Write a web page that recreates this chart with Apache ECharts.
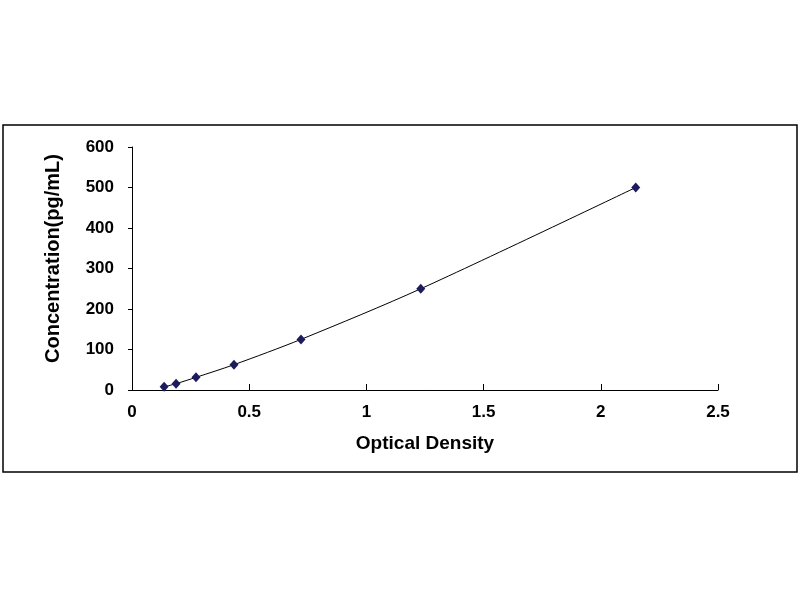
<!DOCTYPE html>
<html>
<head>
<meta charset="utf-8">
<script src="https://cdn.jsdelivr.net/npm/echarts@6/dist/echarts.min.js"></script>
<style>
    html, body { margin: 0; padding: 0; background: #fff; }
    #curve { width: 800px; height: 600px; }
</style>
</head>
<body>
<div id="curve"></div>
<script>
// standard curve: optical density vs concentration
const opticalDensity = [0.137, 0.188, 0.273, 0.435, 0.721, 1.232, 2.149]
const concentration = [7.8, 15.6, 31.25, 62.5, 125, 250, 500]

const xTicks = { min: 0, max: 2.5, interval: 0.5 }
const yTicks = { min: 0, max: 600, interval: 100 }

const font = 'Liberation Sans, Arial, sans-serif'

const buildPoints = function() {
    return opticalDensity.map((x, i) => [x, concentration[i]])
}

const optionForCurve = function(points) {
    const option = {
        animation: false,
        backgroundColor: '#fff',
        graphic: [
            {
                type: 'rect',
                shape: { x: 3, y: 125, width: 794, height: 347 },
                style: { fill: 'none', stroke: '#000', lineWidth: 1.5 },
            },
        ],
        grid: { left: 132, right: 82, top: 147, bottom: 210 },
        xAxis: {
            type: 'value',
            min: xTicks.min,
            max: xTicks.max,
            interval: xTicks.interval,
            name: 'Optical Density',
            nameLocation: 'middle',
            nameGap: 44,
            nameTextStyle: { fontFamily: font, fontWeight: 'bold', fontSize: 19, color: '#000' },
            axisLine: { show: true, lineStyle: { color: '#000', width: 1 } },
            axisTick: { show: true, inside: true, length: 6, lineStyle: { color: '#000' } },
            axisLabel: { fontFamily: font, fontWeight: 'bold', fontSize: 17, color: '#000', margin: 14 },
            splitLine: { show: false },
        },
        yAxis: {
            type: 'value',
            min: yTicks.min,
            max: yTicks.max,
            interval: yTicks.interval,
            name: 'Concentration(pg/mL)',
            nameLocation: 'middle',
            nameGap: 69,
            nameTextStyle: {
                fontFamily: font, fontWeight: 'bold', fontSize: 20, color: '#000',
                padding: [0, 0, 0, 20],
            },
            axisLine: { show: true, lineStyle: { color: '#000', width: 1 } },
            axisTick: { show: true, inside: false, length: 4, lineStyle: { color: '#000' } },
            axisLabel: { fontFamily: font, fontWeight: 'bold', fontSize: 17, color: '#000', margin: 18 },
            splitLine: { show: false },
        },
        series: [
            {
                type: 'line',
                data: points,
                smooth: 0.3,
                symbol: 'diamond',
                symbolSize: [9, 10],
                itemStyle: { color: '#1c1c5c' },
                lineStyle: { color: '#000', width: 1 },
            },
        ],
    }
    return option
}

const __main = function() {
    const element = document.getElementById('curve')
    const chart = echarts.init(element)
    chart.setOption(optionForCurve(buildPoints()))
}

__main()
</script>
</body>
</html>
